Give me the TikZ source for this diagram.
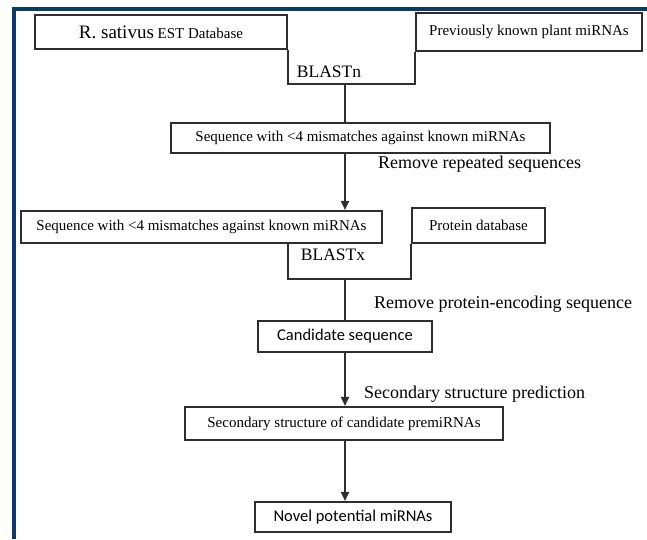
\documentclass[tikz,border=0pt]{standalone}
\usepackage{fontspec}
\setmainfont{Liberation Serif}
\newfontfamily\calibrifont{Carlito}
\usetikzlibrary{arrows.meta,positioning}
\definecolor{framenavy}{HTML}{0A3A6E}
\definecolor{linegray}{HTML}{2E2E2E}

\begin{document}
\begin{tikzpicture}[
    x=1pt, y=-1pt,
    >={Triangle[length=9pt,width=8pt]},
    box/.style={
        draw=linegray,
        fill=white,
        line width=2.1pt,
        inner sep=0pt,
        font=\fontsize{15}{17}\selectfont
    },
    sansbox/.style={
        box,
        font=\calibrifont\fontsize{16.5}{18}\selectfont
    },
    stepnote/.style={
        anchor=west,
        inner sep=0pt,
        font=\fontsize{18}{20}\selectfont
    },
    tool/.style={
        inner sep=0pt,
        font=\fontsize{17.5}{19}\selectfont
    },
    flow/.style={
        draw=linegray,
        line width=1.8pt
    }
]

% Page and frame
\fill[white] (0,0) rectangle (647,539);
\useasboundingbox (0,0) rectangle (647,539);
\fill[framenavy] (12,7) rectangle (647,11);
\fill[framenavy] (12,7) rectangle (16,539);

% Sources
\node[box, minimum width=252pt, minimum height=34pt] (est) at (161,32)
    {{\fontsize{19}{20}\selectfont R. sativus} EST Database};
\node[box, minimum width=226pt, minimum height=38pt] (known) at (529,32)
    {Previously known plant miRNAs};

% BLASTn step
\node[tool] (blastn) at (329,72) {BLASTn};
\coordinate (jn1) at (345,84);
\node[box, minimum width=379pt, minimum height=30pt] (seq1) at (360.5,138)
    {Sequence with <4 mismatches against known miRNAs};

\draw[flow] (est.south east) |- (jn1) -| (known.south west);
\draw[flow] (jn1) -- (jn1 |- seq1.north);

% Filter repeats
\node[box, minimum width=361pt, minimum height=32pt] (seq2) at (201.5,227)
    {Sequence with <4 mismatches against known miRNAs};
\node[box, minimum width=133pt, minimum height=35pt] (protein) at (478.5,225.5)
    {Protein database};
\draw[flow,->] (seq1.south -| jn1) -- (seq2.north -| jn1);
\node[stepnote] (repeat) at (378,164) {Remove repeated sequences};

% BLASTx step
\node[tool] (blastx) at (333,255) {BLASTx};
\coordinate (jn2) at (345,279);
\node[sansbox, minimum width=174pt, minimum height=31pt] (cand) at (345,336.5)
    {Candidate sequence};

\draw[flow] (seq2.south -| est.east) |- (jn2) -| (protein.south west);
\draw[flow] (jn2) -- (jn2 |- cand.north);
\node[stepnote] (encode) at (374,304) {Remove protein-encoding sequence};

% Structure prediction
\node[box, minimum width=318pt, minimum height=33pt] (premir) at (344,423.5)
    {Secondary structure of candidate premiRNAs};
\draw[flow,->] (cand.south -| jn2) -- (premir.north -| jn2);
\node[stepnote] (predict) at (364,394) {Secondary structure prediction};

% Result
\node[sansbox, minimum width=196pt, minimum height=30pt] (novel) at (353,517)
    {Novel potential miRNAs};
\draw[flow,->] (premir.south -| jn2) -- (novel.north -| jn2);

\end{tikzpicture}
\end{document}
